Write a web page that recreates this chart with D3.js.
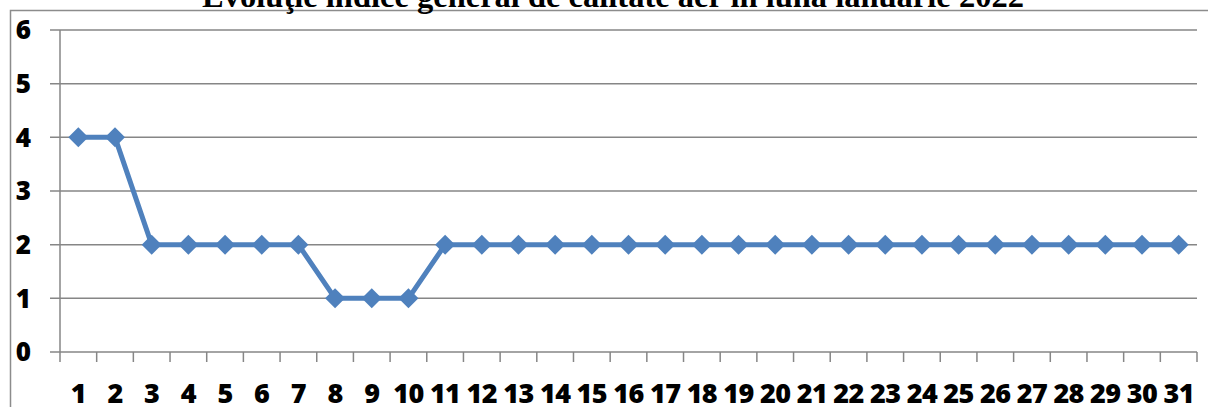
<!DOCTYPE html>
<html>
<head>
<meta charset="utf-8">
<script src="https://cdn.jsdelivr.net/npm/d3@7"></script>
<style>
  body { margin: 0; background: #fff; }
  svg { display: block; }
</style>
</head>
<body>
<svg id="chart" width="1208" height="407"></svg>
<script>
// data
var days = d3.range(1, 32).map(String);
var indexValues = [4, 4, 2, 2, 2, 2, 2, 1, 1, 1, 2, 2, 2, 2, 2, 2, 2, 2, 2, 2, 2, 2, 2, 2, 2, 2, 2, 2, 2, 2, 2];
var yTicks = [0, 1, 2, 3, 4, 5, 6];
var chartTitle = "Evoluţie indice general de calitate aer în luna ianuarie 2022";

var width = 1208, height = 407;
var plotLeft = 60, plotRight = 1197, plotTop = 30, plotBottom = 352;
var blue = "#4f81bd", gridColor = "#868686";

var svg = d3.select("#chart");

// outer frame (only top and left edges are in view)
svg.append("path")
  .attr("d", "M10.5," + height + "V10.5H" + width)
  .attr("fill", "none")
  .attr("stroke", "#8c8c8c")
  .attr("stroke-width", 1.5);

var x = d3.scaleBand().domain(days).range([plotLeft, plotRight]);
var y = d3.scaleLinear().domain([0, 6]).range([plotBottom, plotTop]);

// gridlines
svg.append("g")
  .selectAll("line")
  .data(yTicks.filter(function(d) { return d > 0; }))
  .join("line")
  .attr("x1", plotLeft - 10)
  .attr("x2", plotRight)
  .attr("y1", function(d) { return y(d); })
  .attr("y2", function(d) { return y(d); })
  .attr("stroke", gridColor)
  .attr("stroke-width", 1.5);

// y axis line
svg.append("line")
  .attr("x1", plotLeft).attr("x2", plotLeft)
  .attr("y1", plotTop).attr("y2", plotBottom + 10)
  .attr("stroke", gridColor)
  .attr("stroke-width", 1.5);

// x axis line
svg.append("line")
  .attr("x1", plotLeft - 10).attr("x2", plotRight)
  .attr("y1", plotBottom).attr("y2", plotBottom)
  .attr("stroke", gridColor)
  .attr("stroke-width", 1.5);

// x ticks on category boundaries
var boundaries = days.map(function(d) { return x(d); }).concat([plotRight]);
svg.append("g")
  .selectAll("line")
  .data(boundaries.slice(1))
  .join("line")
  .attr("x1", function(d) { return d; })
  .attr("x2", function(d) { return d; })
  .attr("y1", plotBottom)
  .attr("y2", plotBottom + 10)
  .attr("stroke", gridColor)
  .attr("stroke-width", 1.5);

// y labels
svg.append("g")
  .selectAll("text")
  .data(yTicks)
  .join("text")
  .attr("x", 31)
  .attr("y", function(d) { return y(d); })
  .attr("dy", "0.36em")
  .attr("text-anchor", "end")
  .style("font-family", "Open Sans, sans-serif")
  .style("font-weight", 800)
  .style("font-size", 26)
  .text(function(d) { return d; });

// x labels
svg.append("g")
  .selectAll("text")
  .data(days)
  .join("text")
  .attr("x", function(d) { return x(d) + x.bandwidth() / 2; })
  .attr("y", 403)
  .attr("text-anchor", "middle")
  .style("font-family", "Open Sans, sans-serif")
  .style("font-weight", 800)
  .style("font-size", 27)
  .style("letter-spacing", -0.6)
  .text(function(d) { return d; });

// series
var pts = indexValues.map(function(v, i) { return [x(days[i]) + x.bandwidth() / 2, y(v)]; });

svg.append("path")
  .attr("d", d3.line()(pts))
  .attr("fill", "none")
  .attr("stroke", blue)
  .attr("stroke-width", 5)
  .attr("stroke-linejoin", "round");

svg.append("g")
  .selectAll("path")
  .data(pts)
  .join("path")
  .attr("transform", function(d) { return "translate(" + d[0] + "," + d[1] + ")"; })
  .attr("d", "M0,-10L10,0L0,10L-10,0Z")
  .attr("fill", blue);

// title, clipped by the top of the picture
svg.append("text")
  .attr("x", 613)
  .attr("y", 7)
  .attr("text-anchor", "middle")
  .style("font-family", "Liberation Serif, serif")
  .style("font-weight", "bold")
  .style("font-size", 32.5)
  .text(chartTitle);
</script>
</body>
</html>
